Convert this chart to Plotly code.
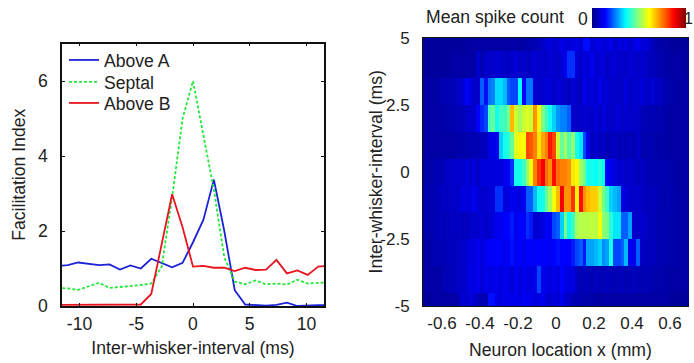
import plotly.graph_objects as go

W, H = 694, 363

# ---- left panel data ----
interval_ms = [-11.96, -11.04, -10.12, -9.2, -8.28, -7.36, -6.44, -5.52, -4.6, -3.68, -2.76, -1.84, -0.92, 0,
               0.92, 1.84, 2.76, 3.68, 4.6, 5.52, 6.44, 7.36, 8.28, 9.2, 10.12, 11.04, 11.96]
above_a = [1.07, 1.09, 1.16, 1.12, 1.09, 1.11, 0.97, 1.08, 1.0, 1.26, 1.14, 1.03, 1.15, 1.7,
           2.3, 3.37, 2.0, 0.42, 0.04, 0.02, 0.01, 0.03, 0.09, 0.0, 0.02, 0.02, 0.02]
septal = [0.48, 0.47, 0.43, 0.53, 0.62, 0.48, 0.5, 0.53, 0.56, 0.6, 1.05, 2.9, 5.0, 6.0,
          4.6, 3.1, 1.3, 0.65, 0.58, 0.68, 0.58, 0.6, 0.57, 0.7, 0.6, 0.62, 0.63]
above_b = [0.03, 0.03, 0.03, 0.05, 0.03, 0.03, 0.03, 0.04, 0.04, 0.32, 1.65, 2.98, 2.1, 1.05,
           1.07, 1.02, 1.02, 0.93, 1.02, 0.96, 0.97, 1.23, 0.87, 0.95, 0.83, 1.05, 1.07]

# ---- right panel data ----
neuron_x_mm = [-0.69, -0.67, -0.65, -0.63, -0.61, -0.59, -0.57, -0.55, -0.53, -0.51,
               -0.49, -0.47, -0.45, -0.43, -0.41, -0.39, -0.37, -0.35, -0.33, -0.31,
               -0.29, -0.27, -0.25, -0.23, -0.21, -0.19, -0.17, -0.15, -0.13, -0.11,
               -0.09, -0.07, -0.05, -0.03, -0.01, 0.01, 0.03, 0.05, 0.07, 0.09,
               0.11, 0.13, 0.15, 0.17, 0.19, 0.21, 0.23, 0.25, 0.27, 0.29,
               0.31, 0.33, 0.35, 0.37, 0.39, 0.41, 0.43, 0.45, 0.47, 0.49,
               0.51, 0.53, 0.55, 0.57, 0.59, 0.61, 0.63, 0.65, 0.67, 0.69]
row_intervals = [-5, -4, -3, -2, -1, 0, 1, 2, 3, 4, 5]

row_m5 = [.02,.02,.03,.03,.03,.03,.03,.03,.03,.05, .09,.07,.10,.08,.06,.05,.05,.15,.15,.11,
          .10,.12,.11,.12,.12,.11,.13,.12,.12,.10, .11,.12,.09,.08,.10,.09,.12,.08,.07,.05,
          .05,.04,.04,.04,.04,.03,.03,.03,.03,.03, .03,.03,.03,.03,.03,.03,.03,.03,.03,.03,
          .03,.03,.03,.03,.03,.02,.02,.02,.02,.02]
row_m4 = [.03,.03,.03,.03,.03,.05,.05,.06,.06,.07, .07,.09,.11,.10,.12,.09,.12,.10,.11,.12,
          .10,.12,.11,.09,.12,.10,.12,.11,.10,.12, .20,.12,.11,.10,.12,.10,.14,.11,.10,.11,
          .06,.05,.06,.05,.05,.06,.05,.05,.06,.05, .05,.05,.06,.05,.05,.06,.05,.05,.05,.05,
          .04,.04,.04,.04,.03,.03,.03,.03,.03,.03]
row_m3 = [.03,.03,.04,.05,.05,.05,.06,.06,.06,.07, .07,.09,.10,.10,.12,.10,.12,.14,.13,.14,
          .13,.12,.13,.15,.13,.14,.12,.14,.14,.13, .14,.13,.14,.13,.14,.15,.14,.14,.13,.16,
          .20,.22,.16,.28,.28,.30,.32,.26,.28,.38, .20,.20,.22,.30,.12,.12,.22,.07,.06,.06,
          .06,.05,.05,.05,.04,.04,.04,.03,.03,.03]
row_m2 = [.04,.04,.05,.05,.06,.05,.06,.07,.06,.07, .06,.06,.08,.07,.08,.09,.07,.08,.10,.12,
          .12,.14,.14,.16,.12,.14,.14,.18,.16,.08, .09,.10,.14,.13,.20,.22,.32,.48,.36,.42,
          .52,.54,.54,.54,.55,.54,.60,.50,.48,.40, .34,.34,.22,.22,.28,.08,.07,.08,.07,.06,
          .06,.05,.05,.05,.04,.04,.04,.03,.03,.03]
row_m1 = [.04,.04,.05,.05,.06,.07,.06,.08,.07,.08, .10,.10,.09,.12,.09,.08,.08,.10,.09,.18,
          .18,.10,.10,.12,.11,.10,.13,.22,.22,.30, .38,.38,.46,.52,.60,.68,.88,.72,.72,.82,
          .62,.86,.72,.68,.66,.66,.56,.48,.42,.32, .30,.28,.10,.09,.08,.07,.08,.07,.06,.06,
          .06,.05,.05,.04,.05,.04,.04,.03,.03,.03]
row_0 = [.04,.04,.04,.05,.05,.06,.07,.07,.08,.08, .07,.10,.08,.10,.07,.10,.10,.09,.10,.10,
         .10,.12,.14,.18,.38,.38,.42,.50,.60,.74, .82,.88,.76,.72,.86,.76,.74,.74,.72,.63,
         .62,.52,.46,.38,.38,.36,.40,.36,.14,.12, .10,.08,.09,.07,.08,.07,.06,.07,.06,.05,
         .05,.05,.04,.05,.04,.04,.03,.03,.03,.03]
row_1 = [.03,.03,.03,.03,.03,.03,.03,.03,.03,.04, .04,.04,.05,.05,.05,.06,.06,.11,.11,.12,
         .32,.38,.40,.46,.58,.62,.60,.80,.78,.74, .64,.70,.74,.85,.80,.56,.46,.52,.44,.50,
         .38,.34,.20,.12,.06,.08,.06,.07,.05,.06, .07,.05,.06,.05,.06,.05,.07,.05,.04,.05,
         .04,.04,.03,.04,.03,.03,.03,.03,.03,.03]
row_2 = [.03,.03,.03,.03,.03,.04,.04,.04,.05,.05, .06,.07,.08,.07,.14,.17,.20,.42,.46,.38,
         .42,.42,.48,.68,.56,.52,.56,.58,.56,.72, .62,.48,.42,.38,.32,.27,.25,.25,.22,.08,
         .07,.07,.09,.07,.08,.09,.07,.10,.08,.07, .08,.09,.07,.08,.07,.08,.07,.06,.05,.05,
         .05,.04,.05,.04,.03,.03,.03,.03,.03,.03]
row_3 = [.03,.03,.03,.03,.04,.05,.05,.05,.06,.07, .08,.14,.10,.08,.07,.22,.15,.24,.25,.33,
         .33,.30,.22,.20,.20,.36,.14,.24,.24,.09, .07,.08,.10,.09,.07,.09,.08,.07,.06,.09,
         .07,.06,.12,.09,.10,.08,.12,.08,.09,.07, .08,.07,.07,.10,.07,.08,.08,.10,.08,.07,
         .09,.06,.07,.05,.04,.04,.03,.03,.03,.03]
row_4 = [.02,.02,.02,.02,.02,.02,.02,.03,.03,.03, .03,.03,.03,.03,.08,.05,.07,.08,.07,.09,
         .07,.08,.06,.08,.09,.07,.08,.06,.07,.09, .07,.08,.07,.09,.08,.07,.09,.12,.18,.18,
         .09,.08,.10,.09,.12,.08,.09,.10,.07,.08, .09,.07,.08,.07,.09,.08,.07,.08,.07,.06,
         .06,.05,.04,.04,.03,.03,.03,.03,.03,.02]
row_5 = [.02,.02,.02,.02,.02,.02,.02,.02,.02,.02, .02,.03,.03,.03,.03,.03,.03,.03,.03,.03,
         .03,.03,.03,.03,.03,.03,.03,.04,.04,.05, .06,.07,.09,.10,.08,.09,.11,.10,.09,.10,
         .11,.09,.15,.15,.09,.10,.11,.09,.10,.12,.08,.10,.09,.11,.08,.10,.12,.09,.10,.08,
         .06,.04,.03,.03,.03,.02,.02,.02,.02,.02]
spike_rows = [row_m5, row_m4, row_m3, row_m2, row_m1, row_0, row_1, row_2, row_3, row_4, row_5]
assert all(len(r) == len(neuron_x_mm) for r in spike_rows), [len(r) for r in spike_rows]

left_x_ticks = [-10, -5, 0, 5, 10]
left_x_labels = ["-10", "-5", "0", "5", "10"]
left_y_ticks = [0, 2, 4, 6]
right_x_ticks = [-0.6, -0.4, -0.2, 0, 0.2, 0.4, 0.6]
right_x_labels = ["-0.6", "-0.4", "-0.2", "0", "0.2", "0.4", "0.6"]
right_y_ticks = [-5, -2.5, 0, 2.5, 5]
right_y_labels = ["-5", "-2.5", "0", "2.5", "5"]

JET = [[0, "#00008c"], [0.14, "#0000ff"], [0.36, "#00ffff"], [0.61, "#ffff00"],
       [0.87, "#ff0000"], [1, "#800000"]]
TXT = "#222222"
FONT = "Liberation Sans"
SZ = 17.6

fig = go.Figure()
fig.add_trace(go.Scatter(x=interval_ms, y=above_a, name="Above A", mode="lines", legend="legend", showlegend=True,
                         line=dict(color="#1c22d6", width=1.8), xaxis="x", yaxis="y"))
fig.add_trace(go.Scatter(x=interval_ms, y=septal, name="Septal", mode="lines", legend="legend2", showlegend=True,
                         line=dict(color="#22e83a", width=1.8, dash="3px,2px"), xaxis="x", yaxis="y"))
fig.add_trace(go.Scatter(x=interval_ms, y=above_b, name="Above B", mode="lines", legend="legend3", showlegend=True,
                         line=dict(color="#e8141e", width=1.8), xaxis="x", yaxis="y"))
fig.add_trace(go.Heatmap(x=neuron_x_mm, y=row_intervals, z=spike_rows, zmin=0, zmax=1,
                         colorscale=JET, xaxis="x2", yaxis="y2", showlegend=False,
                         colorbar=dict(orientation="h", lenmode="pixels", len=94,
                                       thicknessmode="pixels", thickness=20,
                                       x=592 / W, xanchor="left", y=1 - 8 / H, yanchor="top",
                                       xpad=0, ypad=0, outlinewidth=0, showticklabels=False, ticks="")))


def legend_at(top):
    return dict(x=64 / W, y=1 - top / H, xanchor="left", yanchor="top", bgcolor="rgba(0,0,0,0)",
                font=dict(size=SZ, color=TXT), itemwidth=30)


fig.update_layout(
    width=W, height=H, autosize=False, showlegend=True,
    margin=dict(l=0, r=0, t=0, b=0, autoexpand=False),
    paper_bgcolor="white", plot_bgcolor="white",
    font=dict(family=FONT, size=SZ, color=TXT),
    legend=legend_at(42), legend2=legend_at(64), legend3=legend_at(85),
    xaxis=dict(domain=[62 / W, 324 / W], range=[-11.55, 11.55], tickvals=left_x_ticks, ticktext=left_x_labels,
               ticks="inside", ticklen=3, tickcolor="#111", showline=True, linecolor="#111", linewidth=1.5,
               mirror="ticks", showgrid=False, zeroline=False, ticklabelstandoff=1,
               title=dict(text="Inter-whisker-interval (ms)", font=dict(size=SZ), standoff=9)),
    yaxis=dict(domain=[1 - 306 / H, 1 - 43.5 / H], range=[0, 7], tickvals=left_y_ticks,
               ticks="inside", ticklen=3, tickcolor="#111", showline=True, linecolor="#111", linewidth=1.5,
               mirror="ticks", showgrid=False, zeroline=False, ticklabelstandoff=9,
               title=dict(text="Facilitation Index", font=dict(size=SZ), standoff=8)),
    xaxis2=dict(domain=[423 / W, 689 / W], range=[-0.7, 0.7], tickvals=right_x_ticks, ticktext=right_x_labels,
                ticks="", showline=True, linecolor="#111", linewidth=1, mirror=True,
                showgrid=False, zeroline=False, ticklabelstandoff=2, anchor="y2",
                tickfont=dict(size=17)),
    yaxis2=dict(domain=[1 - 306 / H, 1 - 38 / H], range=[-5, 5], tickvals=right_y_ticks, ticktext=right_y_labels,
                ticks="", showline=True, linecolor="#111", linewidth=1,
                showgrid=False, zeroline=False, ticklabelstandoff=9, anchor="x2",
                tickfont=dict(size=17)),
    annotations=[
        dict(text="Mean spike count", x=424 / W, y=1 - 17 / H, xref="paper", yref="paper",
             xanchor="left", yanchor="middle", showarrow=False, font=dict(size=SZ, color=TXT)),
        dict(text="0", x=590 / W, y=1 - 19 / H, xref="paper", yref="paper",
             xanchor="right", yanchor="middle", showarrow=False, font=dict(size=SZ, color=TXT)),
        dict(text="1", x=695 / W, y=1 - 19 / H, xref="paper", yref="paper",
             xanchor="right", yanchor="middle", showarrow=False, font=dict(size=16, color=TXT)),
        dict(text="Neuron location x (mm)", x=560.5 / W, y=1 - 350 / H, xref="paper", yref="paper",
             xanchor="center", yanchor="middle", showarrow=False, font=dict(size=SZ, color=TXT)),
        dict(text="Inter-whisker-interval (ms)", x=375 / W, y=1 - 172.5 / H, xref="paper", yref="paper",
             xanchor="center", yanchor="middle", textangle=-90, showarrow=False, font=dict(size=SZ, color=TXT)),
    ],
)
fig.write_html("out.html", config=dict(displayModeBar=False),
               post_script="document.body.style.margin='0';document.documentElement.style.overflow='hidden';")
